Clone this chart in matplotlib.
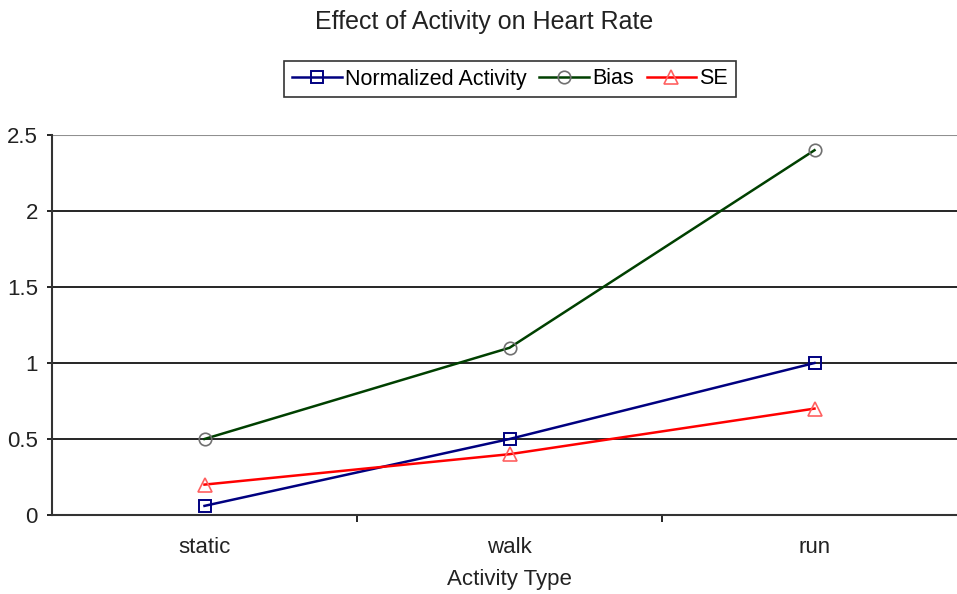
import matplotlib
matplotlib.use("Agg")
import matplotlib.pyplot as plt
from matplotlib.ticker import FixedLocator, NullFormatter

plt.rcParams['font.family'] = ['Liberation Sans', 'DejaVu Sans']

categories = ["static", "walk", "run"]
normalized = [0.06, 0.5, 1.0]
bias = [0.5, 1.1, 2.4]
se = [0.2, 0.4, 0.7]
yticks = [0, 0.5, 1, 1.5, 2, 2.5]

W, H = 957, 594
fig = plt.figure(figsize=(W/100, H/100), dpi=100)
left, right, top, bottom = 52, 957, 135, 515
ax = fig.add_axes([left/W, 1-bottom/H, (right-left)/W, (bottom-top)/H])

x = list(range(len(categories)))
l1, = ax.plot(x, normalized, color='#000080', lw=1.8, marker='s', ms=9,
              mfc='none', mec='#000080', mew=1.4, label='Normalized Activity')
l2, = ax.plot(x, bias, color='#004000', lw=1.8, marker='o', ms=9,
              mfc='none', mec='#707070', mew=1.2, label='Bias')
l3, = ax.plot(x, se, color='#FF0000', lw=1.8, marker='^', ms=10,
              mfc='none', mec='#FF6060', mew=1.2, label='SE')

ax.set_ylim(0, 2.5)
ax.set_xlim(-0.5, -0.5 + (right-left)/305)
ax.set_yticks(yticks)
ax.set_yticklabels([f"{t:g}" for t in yticks], fontsize=16, color='#222222')
for t in yticks[1:-1]:
    ax.axhline(t, color='black', lw=1.2, zorder=0)
ax.axhline(2.5, color='#909090', lw=1.5, zorder=0)

ax.set_xticks(x)
ax.set_xticklabels(categories, fontsize=16, color='#222222')
ax.tick_params(axis='x', which='major', length=0, pad=16)
ax.xaxis.set_minor_locator(FixedLocator([0.5, 1.5, 2.5]))
ax.xaxis.set_minor_formatter(NullFormatter())
ax.tick_params(axis='x', which='minor', length=5, width=1.2, direction='out')
ax.tick_params(axis='y', length=3.6, width=1.2, direction='out', pad=6.5)

for s in ['top', 'right']:
    ax.spines[s].set_visible(False)
ax.spines['left'].set_linewidth(1.5)
ax.spines['bottom'].set_linewidth(1.5)
ax.spines['left'].set_color('#333333')
ax.spines['bottom'].set_color('#333333')

fig.text(509/W, 1-580/H, "Activity Type", ha='center', va='center',
         fontsize=16, color='#222222')

fig.text(484/W, 1-22/H, "Effect of Activity on Heart Rate", ha='center', va='center',
         fontsize=18, color='#222222')

leg = fig.legend(handles=[l1, l2, l3], loc='center', bbox_to_anchor=(510/W, 1-79/H),
                 ncol=3, frameon=True, fontsize=15.5, handlelength=2.3, handletextpad=0.15,
                 columnspacing=0.6, borderpad=0.35, borderaxespad=0, fancybox=False,
                 edgecolor='black')
leg.get_frame().set_linewidth(1.2)

fig.savefig("out.png", dpi=100)
